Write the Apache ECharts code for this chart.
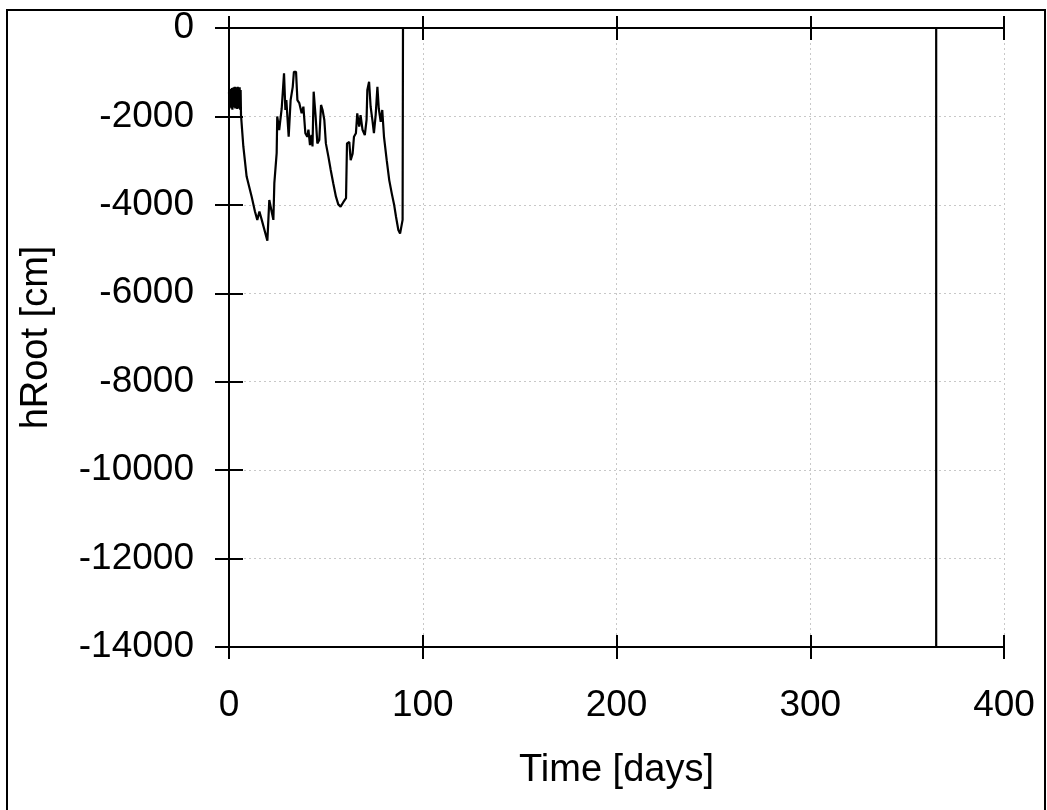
<!DOCTYPE html>
<html>
<head>
<meta charset="utf-8">
<script src="https://cdn.jsdelivr.net/npm/echarts@6/dist/echarts.min.js"></script>
<style>
html,body{margin:0;padding:0;background:#fff;}
#chart{width:1047px;height:810px;}
</style>
</head>
<body>
<div id="chart"></div>
<script>
// Data
const days = [
  0.0, 0.25, 0.5, 0.75, 1.0, 1.25, 1.5, 1.75, 2.0, 2.25, 2.5, 2.75, 3.0, 3.25, 3.5, 3.75,
  4.0, 4.25, 4.5, 4.75, 5.0, 5.25, 5.5, 5.75, 6.0,
  6.2, 7.4, 9.1, 11.7, 13.4, 14.6, 15.7, 16.9, 19.8, 20.8, 22.0, 22.9, 23.4, 24.6, 24.9,
  25.9, 27.2, 28.4, 29.1, 29.6, 30.8, 31.8, 32.9, 33.5, 34.6, 35.3, 36.3, 37.5, 38.4,
  39.4, 40.4, 41.0, 41.8, 42.6, 43.1, 43.7, 44.7, 45.6, 46.6, 47.5, 48.3, 49.2, 50.0,
  51.3, 52.5, 53.8, 55.2, 56.4, 57.6, 59.0, 60.4, 60.9, 62.1, 62.8, 63.8, 64.5, 65.5,
  66.2, 67.2, 67.9, 68.9, 70.1, 71.0, 71.4, 72.3, 73.1, 74.0, 74.8, 75.7, 76.6, 77.3,
  78.3, 79.1, 80.0, 81.4, 82.7, 84.0, 85.2, 86.2, 87.4, 88.3, 89.1, 89.6, 89.8,
  365.0, 365.0
];
const hRoot = [
  -1450, -1750, -1400, -1800, -1380, -1820, -1360, -1850, -1350, -1800, -1340, -1780, -1330, -1820, -1350, -1800,
  -1340, -1830, -1330, -1800, -1350, -1820, -1340, -1850, -1400,
  -1970, -2680, -3360, -3815, -4150, -4340, -4150, -4340, -4810, -3890, -4150, -4340, -3510, -2830, -2000,
  -2310, -1820, -1025, -1855, -1630, -2460, -1630, -1330, -990, -990, -1630, -1700, -1930, -1780,
  -2380, -2460, -2300, -2650, -2420, -2680, -1440, -2000, -2610, -2530, -1740, -1855, -2080, -2610,
  -2910, -3210, -3510, -3815, -3990, -4040, -3940, -3850, -2610, -2580, -2990, -2840, -2460, -2380,
  -1930, -2230, -1970, -2300, -2420, -2080, -1400, -1215, -1780, -2080, -2380, -1970, -1330, -1820,
  -2120, -1855, -2460, -2990, -3440, -3740, -3990, -4270, -4570, -4650, -4610, -4340, 0,
  0, -14000
];
const xTicks = [0, 100, 200, 300, 400];
const yTicks = [0, -2000, -4000, -6000, -8000, -10000, -12000, -14000];

const points = days.map((d, i) => [d, hRoot[i]]);
const FONT = 'Liberation Sans, Arial, sans-serif';
const fmt = v => String(v);

const baseLine = {show: true, onZero: false, lineStyle: {color: '#000', width: 2}};
const gridSplit = {show: true, lineStyle: {color: '#c8c8c8', width: 1, type: [2, 3]}};

function xAx(pos, inside, labels, split, extra) {
  return Object.assign({
    type: 'value', position: pos, min: xTicks[0], max: xTicks[xTicks.length - 1], interval: 100,
    axisLine: baseLine,
    axisTick: {show: true, inside: inside, length: 12, lineStyle: {color: '#000', width: 2}},
    axisLabel: {show: labels, color: '#000', fontSize: 37, fontFamily: FONT, margin: 40, formatter: fmt},
    splitLine: split ? gridSplit : {show: false}
  }, extra || {});
}
function yAx(inside, labels, split, extra) {
  return Object.assign({
    type: 'value', position: 'left', min: yTicks[yTicks.length - 1], max: yTicks[0], interval: 2000,
    axisLine: baseLine,
    axisTick: {show: true, inside: inside, length: 14, lineStyle: {color: '#000', width: 2}},
    axisLabel: {show: labels, color: '#000', fontSize: 37, fontFamily: FONT, margin: 35, formatter: fmt},
    splitLine: split ? gridSplit : {show: false}
  }, extra || {});
}

const chart = echarts.init(document.getElementById('chart'), null, {renderer: 'canvas'});
chart.setOption({
  backgroundColor: '#fff',
  animation: false,
  grid: {left: 229, top: 28, right: 43, bottom: 163, containLabel: false},
  graphic: [{
    type: 'rect', z: 100,
    shape: {x: 7, y: 10, width: 1038, height: 820},
    style: {fill: 'none', stroke: '#000', lineWidth: 2}
  }],
  xAxis: [
    xAx('bottom', false, true, true, {
      name: 'Time [days]', nameLocation: 'middle', nameGap: 105,
      nameTextStyle: {color: '#000', fontSize: 38, fontFamily: FONT}
    }),
    xAx('bottom', true, false, false),
    xAx('top', false, false, false),
    xAx('top', true, false, false)
  ],
  yAxis: [
    yAx(false, true, true, {
      name: 'hRoot [cm]', nameLocation: 'middle', nameGap: 173, nameRotate: 90,
      nameTextStyle: {color: '#000', fontSize: 38, fontFamily: FONT}
    }),
    yAx(true, false, false)
  ],
  series: [{
    type: 'line', xAxisIndex: 0, yAxisIndex: 0,
    data: points, showSymbol: false, symbol: 'none',
    lineStyle: {color: '#000', width: 2.2},
    clip: true, z: 5
  }]
});
</script>
</body>
</html>
